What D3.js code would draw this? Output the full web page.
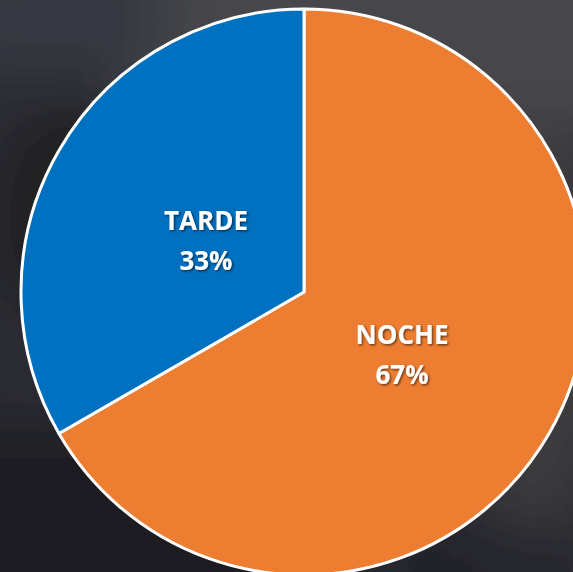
<!DOCTYPE html>
<html>
<head>
<meta charset="utf-8">
<script src="https://cdn.jsdelivr.net/npm/d3@7"></script>
<style>
  html, body { margin: 0; padding: 0; background: #26262d; overflow: hidden; }
</style>
</head>
<body>
<div id="chart"></div>
<script>
var w = 573,
    h = 572,
    cx = 304,
    cy = 292,
    radius = 283;

var categories = ["NOCHE", "TARDE"];
var counts = [2, 1];
var colors = ["#ED7D31", "#0070C0"];

var total = d3.sum(counts);

var svg = d3.select("#chart").append("svg")
    .attr("width", w)
    .attr("height", h);

var defs = svg.append("defs");

defs.append("filter")
    .attr("id", "blur")
    .attr("x", "-50%").attr("y", "-50%")
    .attr("width", "200%").attr("height", "200%")
  .append("feGaussianBlur")
    .attr("stdDeviation", 30);

var shadow = defs.append("filter").attr("id", "shadow");
shadow.append("feDropShadow")
    .attr("dx", 1.3).attr("dy", 1.3)
    .attr("stdDeviation", 1)
    .attr("flood-color", "#000")
    .attr("flood-opacity", 0.6);

// blurred photo-like background
var bg = svg.append("g").attr("filter", "url(#blur)");
bg.append("rect").attr("x", -80).attr("y", -80).attr("width", w + 160).attr("height", h + 160).attr("fill", "#2a2a31");
bg.append("rect").attr("x", 130).attr("y", -80).attr("width", 520).attr("height", 210).attr("fill", "#47474b");
bg.append("ellipse").attr("cx", 50).attr("cy", 20).attr("rx", 130).attr("ry", 60).attr("fill", "#363741");
bg.append("ellipse").attr("cx", 70).attr("cy", 220).attr("rx", 60).attr("ry", 110).attr("fill", "#1a1a1d");
bg.append("ellipse").attr("cx", 100).attr("cy", 340).attr("rx", 60).attr("ry", 50).attr("fill", "#30303a");
bg.append("rect").attr("x", -80).attr("y", 430).attr("width", 420).attr("height", 220).attr("fill", "#1c1c21");
bg.append("ellipse").attr("cx", 545).attr("cy", 320).attr("rx", 60).attr("ry", 200).attr("fill", "#3c3c41");
bg.append("ellipse").attr("cx", 530).attr("cy", 490).attr("rx", 50).attr("ry", 60).attr("fill", "#3a3a3c");
bg.append("ellipse").attr("cx", 470).attr("cy", 565).attr("rx", 120).attr("ry", 40).attr("fill", "#24242a");

var pie = d3.pie().sort(null).value(function(d) { return d; });
var arcs = pie(counts);

var arc = d3.arc().innerRadius(0).outerRadius(radius);
var labelArc = d3.arc().innerRadius(radius * 0.4).outerRadius(radius * 0.4);

var g = svg.append("g").attr("transform", "translate(" + cx + "," + cy + ")");

g.selectAll("path")
    .data(arcs)
  .enter().append("path")
    .attr("d", arc)
    .attr("fill", function(d, i) { return colors[i]; })
    .attr("stroke", "#fff")
    .attr("stroke-width", 3)
    .attr("stroke-linejoin", "round");

var labels = g.selectAll("text")
    .data(arcs)
  .enter().append("text")
    .attr("transform", function(d) {
      var c = labelArc.centroid(d);
      return "translate(" + c + ")";
    })
    .attr("text-anchor", "middle")
    .attr("fill", "#fff")
    .attr("font-family", "'Open Sans', sans-serif")
    .attr("font-weight", "bold")
    .attr("font-size", 26)
    .attr("filter", "url(#shadow)");

labels.append("tspan")
    .attr("x", 0)
    .attr("y", -5)
    .text(function(d, i) { return categories[i]; });

labels.append("tspan")
    .attr("x", 0)
    .attr("y", 35)
    .text(function(d) { return Math.round(d.data / total * 100) + "%"; });
</script>
</body>
</html>
